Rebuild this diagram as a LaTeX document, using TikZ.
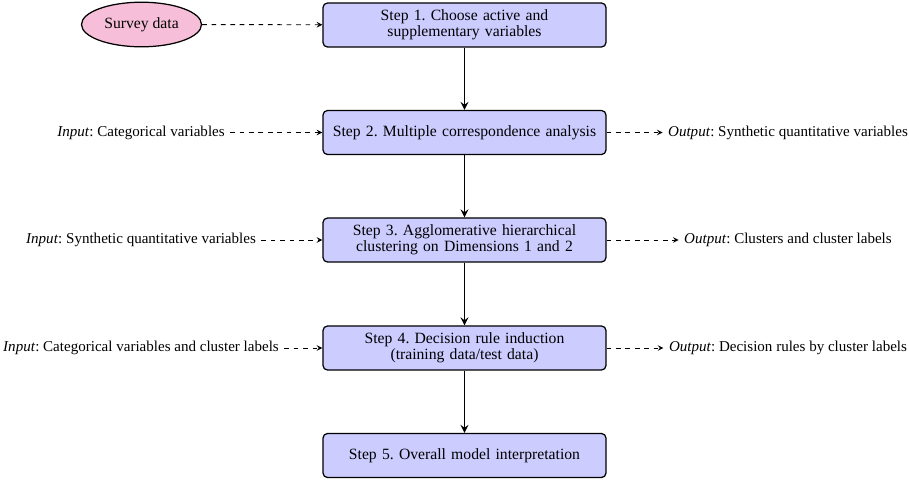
\documentclass[tikz,border=0pt]{standalone}
\usepackage{fontspec}
\setmainfont{Liberation Serif}
\usetikzlibrary{shapes.geometric}
\definecolor{stepblue}{rgb}{0.8,0.8,1}
\definecolor{surveypink}{RGB}{246,190,216}
\frenchspacing

\begin{document}
\begin{tikzpicture}[x=0.02243cm,y=-0.02243cm,
  stepbox/.style={draw,thick,rounded corners=3pt,fill=stepblue,minimum width=6.35cm,minimum height=0.99cm,text width=6cm,align=center,font=\fontsize{10}{10}\selectfont},
  sidetext/.style={font=\fontsize{9.6}{12}\selectfont},
  flow/.style={->,>=stealth,very thick},
  feed/.style={->,>=stealth,dashed,semithick}]
\useasboundingbox (0,0) rectangle (909,481);
%Centres of the steps
\coordinate (c1) at (464.5,25);
\coordinate (c2) at (464.5,132.5);
\coordinate (c3) at (464.5,240);
\coordinate (c4) at (464.5,348);
\coordinate (c5) at (464.5,455.5);
%The steps
\node [stepbox] (step1) at (c1) {Step 1. Choose active and\\ supplementary variables};
\node [stepbox] (step2) at (c2) {Step 2. Multiple correspondence analysis};
\node [stepbox] (step3) at (c3) {Step 3. Agglomerative hierarchical\\ clustering on Dimensions 1 and 2};
\node [stepbox] (step4) at (c4) {Step 4. Decision rule induction\\ (training data/test data)};
\node [stepbox] (step5) at (c5) {Step 5. Overall model interpretation};
%Main flow downwards
\draw [flow] (step1) -- (step2);
\draw [flow] (step2) -- (step3);
\draw [flow] (step3) -- (step4);
\draw [flow] (step4) -- (step5);
%Survey data
\node [ellipse,draw,thick,fill=surveypink,minimum width=2.62cm,minimum height=1.0cm] (survey) at (141.5,24.5) {Survey data};
\draw [feed] (survey) -- (step1);
%Inputs on the left
\node [sidetext] (in2) at (141,132.5) {\textit{Input}: Categorical variables};
\node [sidetext] (in3) at (141,240) {\textit{Input}: Synthetic quantitative variables};
\node [sidetext] (in4) at (141,348) {\textit{Input}: Categorical variables and cluster labels};
\draw [feed] (in2) -- (step2);
\draw [feed] (in3) -- (step3);
\draw [feed] (in4) -- (step4);
%Outputs on the right
\node [sidetext] (out2) at (788,132.5) {\textit{Output}: Synthetic quantitative variables};
\node [sidetext] (out3) at (788,240) {\textit{Output}: Clusters and cluster labels};
\node [sidetext] (out4) at (788,348) {\textit{Output}: Decision rules by cluster labels};
\draw [feed] (step2) -- (out2);
\draw [feed] (step3) -- (out3);
\draw [feed] (step4) -- (out4);
\end{tikzpicture}
\end{document}
